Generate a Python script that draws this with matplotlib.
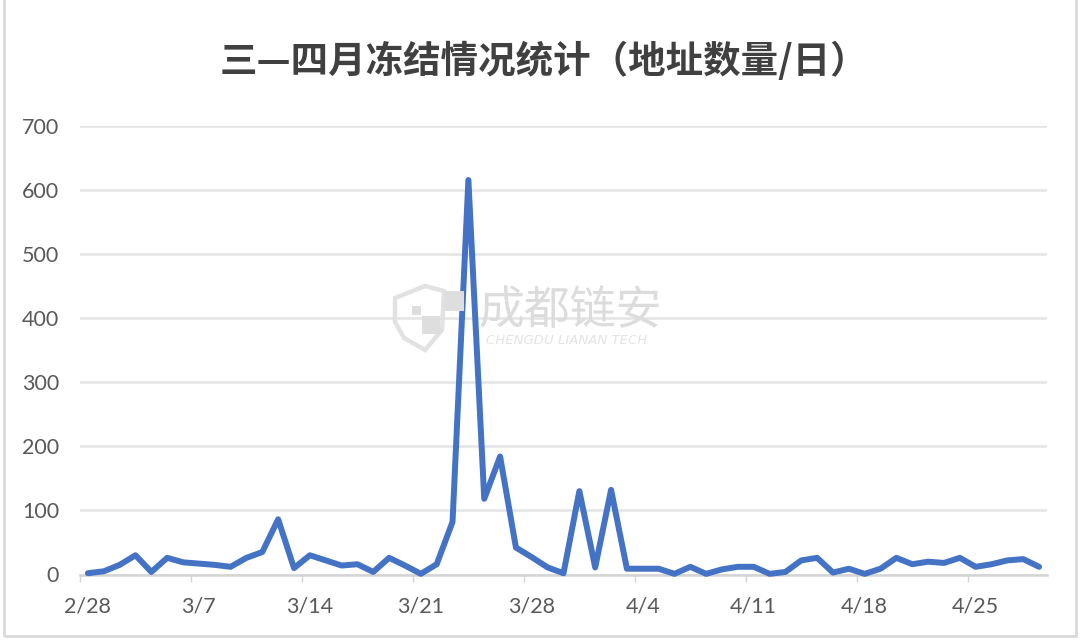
import matplotlib
matplotlib.use("Agg")
import matplotlib.pyplot as plt
from matplotlib.patches import Polygon, Rectangle

plt.rcParams['font.family'] = ['Noto Sans CJK SC', 'DejaVu Sans']

title = "三—四月冻结情况统计（地址数量/日）"
counts = [2, 5, 15, 30, 4, 26, 19, 17, 15, 12, 26, 35, 86, 10, 30, 22, 14, 16, 4, 26,
          14, 1, 16, 82, 615, 118, 184, 42, 27, 11, 2, 130, 11, 132, 9, 9, 9, 1, 12, 1,
          8, 12, 12, 1, 4, 22, 26, 3, 9, 1, 9, 26, 16, 20, 18, 26, 12, 16, 22, 24, 12]
tick_labels = ["2/28", "3/7", "3/14", "3/21", "3/28", "4/4", "4/11", "4/18", "4/25"]
y_ticks = [0, 100, 200, 300, 400, 500, 600, 700]

W, H = 1080, 640
fig = plt.figure(figsize=(W / 100, H / 100), dpi=100, facecolor="white")
ax = fig.add_axes([80 / W, 1 - 574.5 / H, (1047 - 80) / W, (574.5 - 125.5) / H])

# outer chart frame
fig.add_artist(Rectangle((4 / W, 1 - 636 / H), (1076 - 4) / W, 640 / H, transform=fig.transFigure,
                         fill=False, ec="#D9D9D9", lw=2))

ax.plot(range(len(counts)), counts, color="#4472C4", lw=4.3, solid_joinstyle="round",
        solid_capstyle="round", zorder=3, clip_on=False)
ax.set_xlim(-0.5, len(counts) - 0.5)
ax.set_ylim(0, 700)
ax.set_yticks(y_ticks)
# labels sit on the data points, tick marks on the category boundaries
ax.set_xticks([7 * i for i in range(len(tick_labels))])
ax.set_xticklabels(tick_labels)
ax.set_xticks([-0.5 + 7 * i for i in range(len(tick_labels))], minor=True)
ax.grid(axis="y", color="#E4E4E4", lw=1.8, zorder=0)
ax.set_axisbelow(True)
for s in ["top", "right", "left"]:
    ax.spines[s].set_visible(False)
ax.spines["bottom"].set_color("#D4D4D4")
ax.spines["bottom"].set_linewidth(1.8)
ax.tick_params(axis="y", length=0, pad=15, labelsize=15.5, labelcolor="#595959")
ax.tick_params(axis="x", which="major", length=0, pad=16, labelsize=15.5, labelcolor="#595959")
ax.tick_params(axis="x", which="minor", length=5, width=1, color="#D4D4D4")
for lab in ax.get_xticklabels() + ax.get_yticklabels():
    lab.set_family(["Lato", "DejaVu Sans"])

fig.text(544 / W, 1 - 61 / H, title, ha="center", va="center", fontsize=27, fontweight="bold", color="#404040")


# watermark, placed in figure pixels
def px(x, y):
    return (x / W, 1 - y / H)


shield = [(395, 298), (425, 286), (444, 291), (442, 330), (425, 350), (404, 338), (395, 322)]
fig.add_artist(Polygon([px(*p) for p in shield], closed=True, transform=fig.transFigure,
                       fill=False, ec="#E2E2E2", lw=3.2, zorder=5))
for x0, y0, sz in [(444, 291, 20), (422, 316, 18), (412, 306, 9)]:
    fig.add_artist(Rectangle(px(x0, y0 + sz), sz / W, sz / H, transform=fig.transFigure,
                             fc="#DEDEDE", ec="none", zorder=5))
fig.text(570 / W, 1 - 311 / H, "成都链安", ha="center", va="center", fontsize=33, color="#DCDCDC", zorder=6)
fig.text(567 / W, 1 - 341 / H, "CHENGDU LIANAN TECH", ha="center", va="center", fontsize=9.5, style="italic",
         color="#E4E4E4", family=["DejaVu Sans"], zorder=6)

fig.savefig("out.png", dpi=100)
